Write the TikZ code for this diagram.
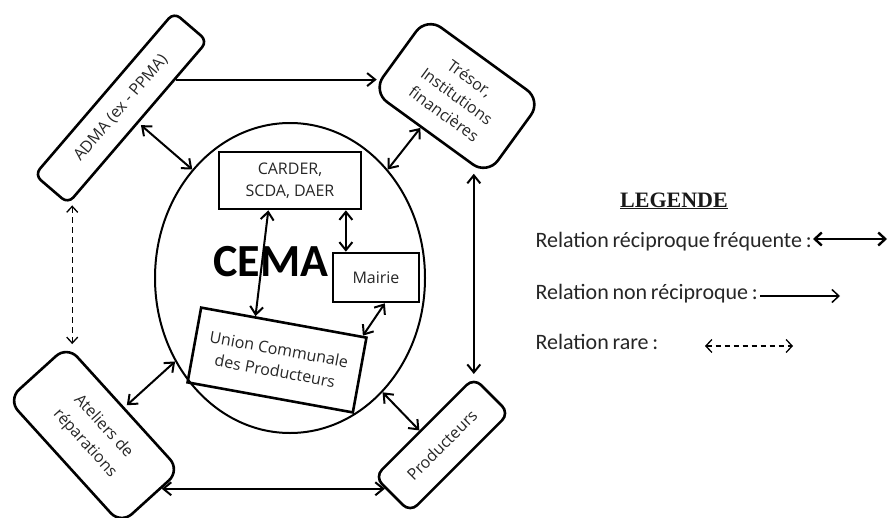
\documentclass[tikz,border=0pt]{standalone}
\usepackage{fontspec}
\setmainfont{Open Sans}
\newfontfamily\calib{Carlito}
\newfontfamily\calibleg[WordSpace=0.75]{Carlito}
\newfontfamily\tms{Liberation Serif}
\usetikzlibrary{arrows.meta,shapes.geometric,calc}
\begin{document}
\begin{tikzpicture}[x=1pt,y=-1pt,
  boxtxt/.style={font=\fontsize{16}{22}\selectfont, text=black!85, align=center},
  sqbox/.style={draw, line width=2.6pt, inner sep=0pt, boxtxt},
  rbox/.style={sqbox, rounded corners=#1},
  barb/.tip={Straight Barb[length=8pt,width=13pt]},
  conn/.style={line width=2pt, barb-barb},
  oneway/.style={line width=2pt, -barb},
  rare/.style={line width=1.3pt, dash pattern=on 6pt off 4pt,
     {Straight Barb[length=6pt,width=11pt]}-{Straight Barb[length=6pt,width=11pt]}},
  legtxt/.style={anchor=base west, text=black!85, font=\calibleg\fontsize{22}{24}\selectfont}
]
\useasboundingbox (0,0) rectangle (889,517);

% central ellipse
\node[draw, ellipse, line width=2pt, minimum width=270pt, minimum height=310pt, inner sep=0pt] (cema) at (290,278) {};
\node[font=\calib\bfseries\fontsize{46}{46}\selectfont, inner sep=0pt] (cematxt) at (271,262) {CEMA};

% inner boxes
\node[sqbox, minimum width=142pt, minimum height=57pt] (carder) at (290,180.5) {CARDER,\\SCDA, DAER};
\node[sqbox, minimum width=86pt, minimum height=49pt] (mairie) at (376,277.5) {Mairie};
\node[sqbox, minimum width=168pt, minimum height=76pt, rotate=-10.3] (union) at (277,360) {Union Communale\\des Producteurs};

% outer boxes
\node[rbox=8pt, minimum width=214pt, minimum height=44pt, rotate=49.4] (adma) at (121,108) {ADMA (ex - PPMA)};
\node[rbox=18pt, minimum width=142pt, minimum height=92pt, rotate=-36] (tresor) at (457,96) {Trésor,\\Institutions\\financières};
\node[rbox=15pt, minimum width=168pt, minimum height=80pt, rotate=-47.8, font=\fontsize{16}{25}\selectfont] (ateliers) at (94,435) {Ateliers de\\réparations};
\node[rbox=10pt, minimum width=140pt, minimum height=50pt, rotate=45] (prod) at (442,445) {Producteurs};

% helper points on node borders
\coordinate (a1) at ($(adma.south)!0.53!(adma.south east)$);
\coordinate (t1) at ($(tresor.south)!0.15!(tresor.south west)$);
\coordinate (h1) at ($(ateliers.north east)!0.33!(ateliers.south east)$);
\coordinate (h2) at ($(prod.north west)!0.32!(prod.south west)$);
\coordinate (p1) at ($(prod.north)!0.08!(prod.north west)$);
\coordinate (c1) at ($(carder.south west)!0.35!(carder.south east)$);
\coordinate (u1) at ($(union.north west)!0.33!(union.north east)$);
\coordinate (m1) at ($(mairie.north west)!0.16!(mairie.north east)$);
\coordinate (m2) at ($(mairie.south west)!0.6!(mairie.south east)$);
\coordinate (u2) at ($(union.north east)!0.03!(union.north west)$);

% connectors
\draw[oneway, shorten >=-6pt] (a1) -- (a1 -| tresor.south west);
\draw[conn, shorten <=3pt] (adma.south) -- (cema.132.8);
\draw[conn] (t1) -- (cema.48.7);
\draw[conn, shorten <=-3pt, shorten >=2pt] (tresor.south east -| prod.north east) -- (prod.north east);
\draw[rare] ([xshift=4pt]adma.south west) -- ([xshift=4pt]adma.south west |- ateliers.north west);
\draw[conn, shorten <=3pt] (ateliers.north) -- (cema.216.7);
\draw[conn] (h1) -- (h1 -| h2);
\draw[conn] (p1) -- (cema.-51.7);
\draw[conn] (c1) -- (u1);
\draw[conn] (m1 |- carder.south) -- (m1);
\draw[conn] (m2) -- (u2);

% legend
\node[anchor=base, font=\tms\bfseries\fontsize{22}{24}\selectfont, text=black!90] (leg) at (674,207) {\underline{LEGENDE}};
\node[legtxt] (l1) at (532,247) {Relation réciproque fréquente :};
\node[legtxt] (l2) at (532,299) {Relation non réciproque :};
\node[legtxt] (l3) at (532,349) {Relation rare :};
\coordinate (l1a) at (813,239); \coordinate (l1b) at (887,239);
\coordinate (l2a) at (760,296); \coordinate (l2b) at (840,296);
\coordinate (l3a) at (705,346); \coordinate (l3b) at (793,346);
\draw[line width=2.4pt, {Straight Barb[length=7pt,width=13pt]}-{Straight Barb[length=7pt,width=13pt]}] (l1a) -- (l1b);
\draw[line width=1.5pt, -{Straight Barb[length=7pt,width=13pt]}] (l2a) -- (l2b);
\draw[line width=1.3pt, dash pattern=on 5pt off 4pt, {Straight Barb[length=6pt,width=13pt]}-{Straight Barb[length=6pt,width=13pt]}] (l3a) -- (l3b);
\end{tikzpicture}
\end{document}
